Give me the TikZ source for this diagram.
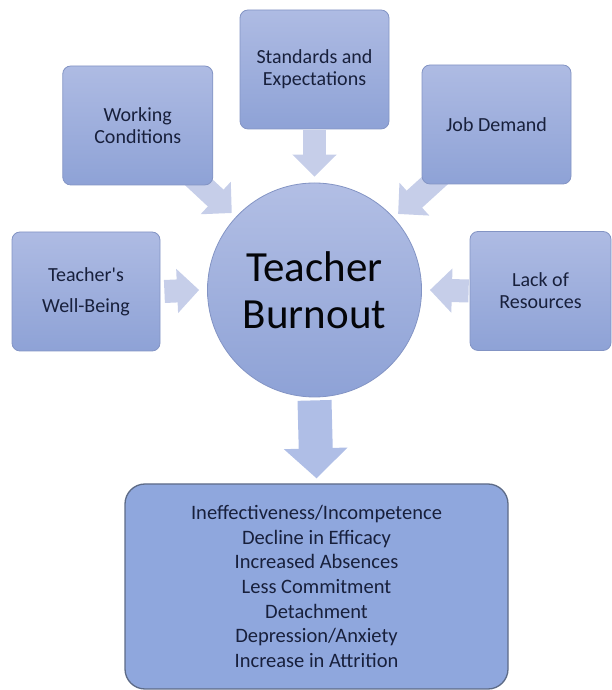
\documentclass[tikz,border=0pt]{standalone}
\usepackage{fontspec}
\setmainfont{Carlito}
\usetikzlibrary{arrows.meta,calc,backgrounds}

\definecolor{boxtop}{HTML}{AEBBE3}
\definecolor{boxbot}{HTML}{8EA2D6}
\definecolor{boxline}{HTML}{8394C4}
\definecolor{flowcol}{HTML}{C6CEE9}
\definecolor{bigflowcol}{HTML}{AFBEE6}
\definecolor{effectfill}{HTML}{8FA7DD}
\definecolor{effectline}{HTML}{5D6B87}
\definecolor{txt}{HTML}{18203C}

\begin{document}
\begin{tikzpicture}[x=1pt,y=1pt,
  factor node/.style={rectangle,rounded corners=8pt,draw=boxline,line width=0.8pt,
    top color=boxtop,bottom color=boxbot,minimum height=119pt,align=center,
    text=txt,font=\fontsize{20}{22}\selectfont},
  burnout node/.style={circle,draw=boxline,line width=0.8pt,minimum size=214pt,
    top color=boxtop!95!white,bottom color=boxbot,align=center,text=black!85!txt,
    font=\fontsize{43}{47}\selectfont},
  effect node/.style={rectangle,rounded corners=20pt,draw=effectline,line width=1.3pt,
    fill=effectfill,minimum width=383pt,minimum height=205pt,align=center,
    text=txt,font=\fontsize{20.5}{24.7}\selectfont},
  flow/.style={flowcol,line width=23pt,-{Triangle[width=43pt,length=22pt]}},
  bigflow/.style={bigflowcol,line width=34pt,-{Triangle[width=62pt,length=30pt]}}]

  \useasboundingbox (0,0) rectangle (612,690);

  % the five causes
  \foreach \place/\name/\boxw/\txt in {
    {(314.5,620.5)/std/149/{Standards and\\Expectations}},
    {(137.75,564.5)/work/150/{Working\\Conditions}},
    {(496.5,565.5)/job/149/{Job Demand}},
    {(86,398.5)/well/148/{Teacher\textquotesingle s\\[9pt]Well-Being}},
    {(540.5,399)/lack/141/{Lack of\\Resources}}}
  \node[factor node,minimum width=\boxw pt] (\name) at \place {\txt};

  \node[burnout node] (burn) at (314.5,400) {Teacher\\Burnout};

  \node[effect node] (effects) at (316.5,103.5) {Ineffectiveness/Incompetence\\
    Decline in Efficacy\\Increased Absences\\Less Commitment\\Detachment\\
    Depression/Anxiety\\Increase in Attrition};

  % block arrows go behind the boxes
  \begin{scope}[on background layer]
    \draw[flow] ($(std.south)+(0,-1)$) -- ($(burn.north)+(0,6)$);
    \draw[flow] ($(well.east)+(4,0)$) -- ($(burn.west)+(-8,0)$);
    \draw[flow] ($(lack.west)+(-1,0)$) -- ($(burn.east)+(8,0)$);
    \draw[flow] ($(work.center)!75pt!(burn.center)$) -- ($(burn.center)!113pt!(work.center)$);
    \draw[flow] ($(job.center)!75pt!(burn.center)$) -- ($(burn.center)!113pt!(job.center)$);
    \draw[bigflow] ($(burn.south)+(0,-3)$) -- ($(effects.north)+(0,5)$);
  \end{scope}
\end{tikzpicture}
\end{document}
